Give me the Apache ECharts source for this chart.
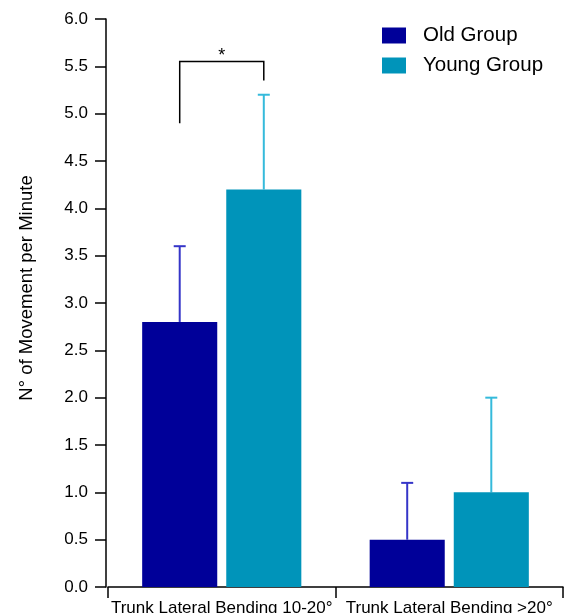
<!DOCTYPE html>
<html><head><meta charset="utf-8">
<script src="https://cdn.jsdelivr.net/npm/echarts@6/dist/echarts.min.js"></script>
<style>html,body{margin:0;padding:0;background:#fff}#c{width:566px;height:613px}</style>
</head><body><div id="c"></div>
<script>
const categories = ['Trunk Lateral Bending 10-20°', 'Trunk Lateral Bending >20°'];
const seriesNames = ['Old Group', 'Young Group'];
const oldMeans = [2.8, 0.5];
const youngMeans = [4.2, 1.0];
const oldErr = [0.8, 0.6];
const youngErr = [1.0, 1.0];
const yTicks = [0, 0.5, 1, 1.5, 2, 2.5, 3, 3.5, 4, 4.5, 5, 5.5, 6];
// significance bracket: category index, left bottom y, top y, right bottom y
const sigCategory = [0];
const sigLeftY = [4.9];
const sigTopY = [5.55];
const sigRightY = [5.35];
const sigLabel = ['*'];

const FONT = 'Liberation Sans, Arial, sans-serif';
const OLD_COLOR = '#000099';
const YOUNG_COLOR = '#0094BA';
const OLD_ERR = '#3535C8';
const YOUNG_ERR = '#35BADB';
const BAR_W = 0.33, BAR_GAP = 0.12;
const offFrac = BAR_W * (1 + BAR_GAP) / 2;

function errSeries(means, errs, sign, color) {
  return {
    type: 'custom',
    z: 1,
    data: means.map((m, i) => [i, m, m + errs[i]]),
    renderItem: function (params, api) {
      const c = api.value(0);
      const bw = api.size([1, 0])[0];
      const p0 = api.coord([c, api.value(1)]);
      const p1 = api.coord([c, api.value(2)]);
      const x = p0[0] + sign * bw * offFrac;
      const half = 6;
      return {
        type: 'group',
        children: [
          { type: 'line', shape: { x1: x, y1: p0[1], x2: x, y2: p1[1] }, style: { stroke: color, lineWidth: 2 } },
          { type: 'line', shape: { x1: x - half, y1: p1[1], x2: x + half, y2: p1[1] }, style: { stroke: color, lineWidth: 2 } }
        ]
      };
    }
  };
}

const chart = echarts.init(document.getElementById('c'), null, { renderer: 'canvas' });
chart.setOption({
  animation: false,
  backgroundColor: '#fff',
  textStyle: { fontFamily: FONT },
  grid: { left: 108, right: 3, top: 19, bottom: 26, containLabel: false, outerBoundsMode: 'none' },
  legend: {
    data: seriesNames,
    orient: 'vertical',
    left: 377, top: 20,
    itemWidth: 24, itemHeight: 16, itemGap: 9,
    icon: 'rect',
    textStyle: { fontFamily: FONT, fontSize: 20.5, color: '#000', padding: [0, 0, 0, 12] }
  },
  xAxis: {
    type: 'category',
    data: categories,
    offset: 2,
    axisLine: { show: true, lineStyle: { color: '#000', width: 1.5 } },
    axisTick: { show: true, length: 11, lineStyle: { color: '#000', width: 1.5 } },
    axisLabel: { interval: 0, fontFamily: FONT, fontSize: 17, color: '#000', margin: 11 },
    splitLine: { show: false }
  },
  yAxis: {
    type: 'value',
    min: 0, max: 6, interval: 0.5,
    offset: 2,
    name: 'N° of Movement per Minute',
    nameLocation: 'middle',
    nameGap: 70,
    nameTextStyle: { fontFamily: FONT, fontSize: 18.5, color: '#000', padding: [0, 0, 0, 30] },
    axisLine: { show: true, lineStyle: { color: '#000', width: 1.5 } },
    axisTick: { show: true, length: 11, lineStyle: { color: '#000', width: 1.5 } },
    axisLabel: { fontFamily: FONT, fontSize: 17, color: '#000', margin: 18,
      formatter: v => yTicks.indexOf(v) >= 0 ? v.toFixed(1) : '' },
    splitLine: { show: false }
  },
  series: [
    { name: seriesNames[0], type: 'bar', data: oldMeans, barWidth: (BAR_W * 100) + '%', barGap: (BAR_GAP * 100) + '%',
      itemStyle: { color: OLD_COLOR }, z: 2 },
    { name: seriesNames[1], type: 'bar', data: youngMeans, barWidth: (BAR_W * 100) + '%',
      itemStyle: { color: YOUNG_COLOR }, z: 2 },
    errSeries(oldMeans, oldErr, -1, OLD_ERR),
    errSeries(youngMeans, youngErr, 1, YOUNG_ERR),
    {
      type: 'custom',
      z: 3,
      data: sigCategory.map((c, i) => [c, sigLeftY[i], sigTopY[i], sigRightY[i]]),
      renderItem: function (params, api) {
        const c = api.value(0);
        const bw = api.size([1, 0])[0];
        const center = api.coord([c, 0])[0];
        const xl = center - bw * offFrac, xr = center + bw * offFrac;
        const yl = api.coord([c, api.value(1)])[1];
        const yt = api.coord([c, api.value(2)])[1];
        const yr = api.coord([c, api.value(3)])[1];
        return {
          type: 'group',
          children: [
            { type: 'polyline', shape: { points: [[xl, yl], [xl, yt], [xr, yt], [xr, yr]] },
              style: { stroke: '#000', lineWidth: 1.5, fill: null } },
            { type: 'text', style: { text: sigLabel[params.dataIndex], x: (xl + xr) / 2, y: yt + 3,
              align: 'center', verticalAlign: 'bottom', fontFamily: FONT, fontSize: 18, fill: '#000' } }
          ]
        };
      }
    }
  ]
});
</script></body></html>
